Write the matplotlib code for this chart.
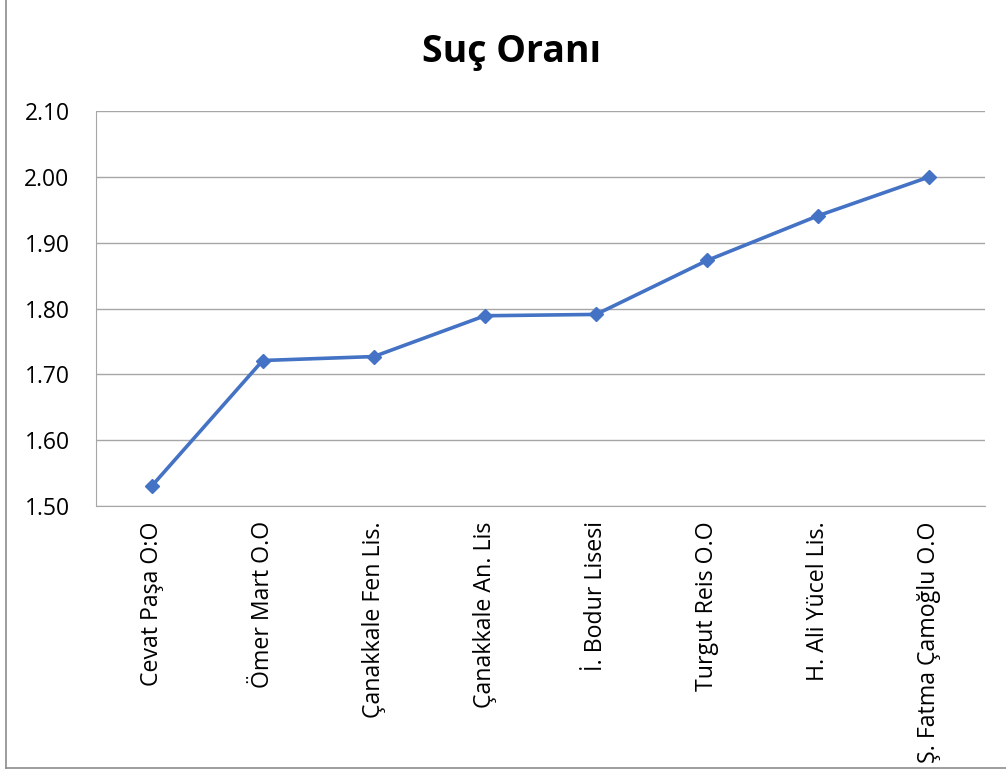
import matplotlib
matplotlib.use('Agg')
import matplotlib.pyplot as plt
from matplotlib.lines import Line2D

# data
schools = ['Cevat Paşa O:O', 'Ömer Mart O.O', 'Çanakkale Fen Lis.', 'Çanakkale An. Lis',
           'İ. Bodur Lisesi', 'Turgut Reis O.O', 'H. Ali Yücel Lis.', 'Ş. Fatma Çamoğlu O.O']
crime_rate = [1.530, 1.721, 1.727, 1.789, 1.791, 1.873, 1.941, 2.000]
y_ticks = [1.50, 1.60, 1.70, 1.80, 1.90, 2.00, 2.10]

plt.rcParams['font.family'] = ['Open Sans', 'DejaVu Sans']

fig = plt.figure(figsize=(10.06, 7.74), dpi=100)
ax = fig.add_axes([96 / 1006, 1 - 506 / 774, 889 / 1006, 395 / 774])

x = list(range(len(schools)))
ax.plot(x, crime_rate, color='#4472C4', linewidth=2.6, marker='D', markersize=7.5,
        markerfacecolor='#4472C4', markeredgecolor='#4472C4')

ax.set_xlim(-0.5, len(schools) - 0.5)
ax.set_ylim(1.50, 2.10)
ax.set_yticks(y_ticks)
ax.set_yticklabels([f'{v:.2f}' for v in y_ticks], fontsize=16.5)
ax.set_xticks(x)
ax.set_xticklabels(schools, rotation=90, fontsize=16.7, va='top', ha='center')
ax.tick_params(axis='both', length=0)
ax.tick_params(axis='y', pad=19)
ax.tick_params(axis='x', pad=11)

ax.grid(axis='y', color='#a6a6a6', linewidth=1.0)
ax.set_axisbelow(True)
for side in ['top', 'right']:
    ax.spines[side].set_visible(False)
ax.spines['left'].set_color('#a6a6a6')
ax.spines['bottom'].set_color('#a6a6a6')

fig.text(511 / 1006, 1 - 52 / 774, 'Suç Oranı', fontsize=27, fontweight='bold',
         ha='center', va='center')

# chart frame (left and bottom edges visible)
fig.add_artist(Line2D([6 / 1006, 6 / 1006], [1 - 768 / 774, 1.0], transform=fig.transFigure,
                      color='#8c8c8c', linewidth=1.2))
fig.add_artist(Line2D([6 / 1006, 1.0], [1 - 768 / 774, 1 - 768 / 774], transform=fig.transFigure,
                      color='#8c8c8c', linewidth=1.2))

fig.savefig('out.png', dpi=100)
